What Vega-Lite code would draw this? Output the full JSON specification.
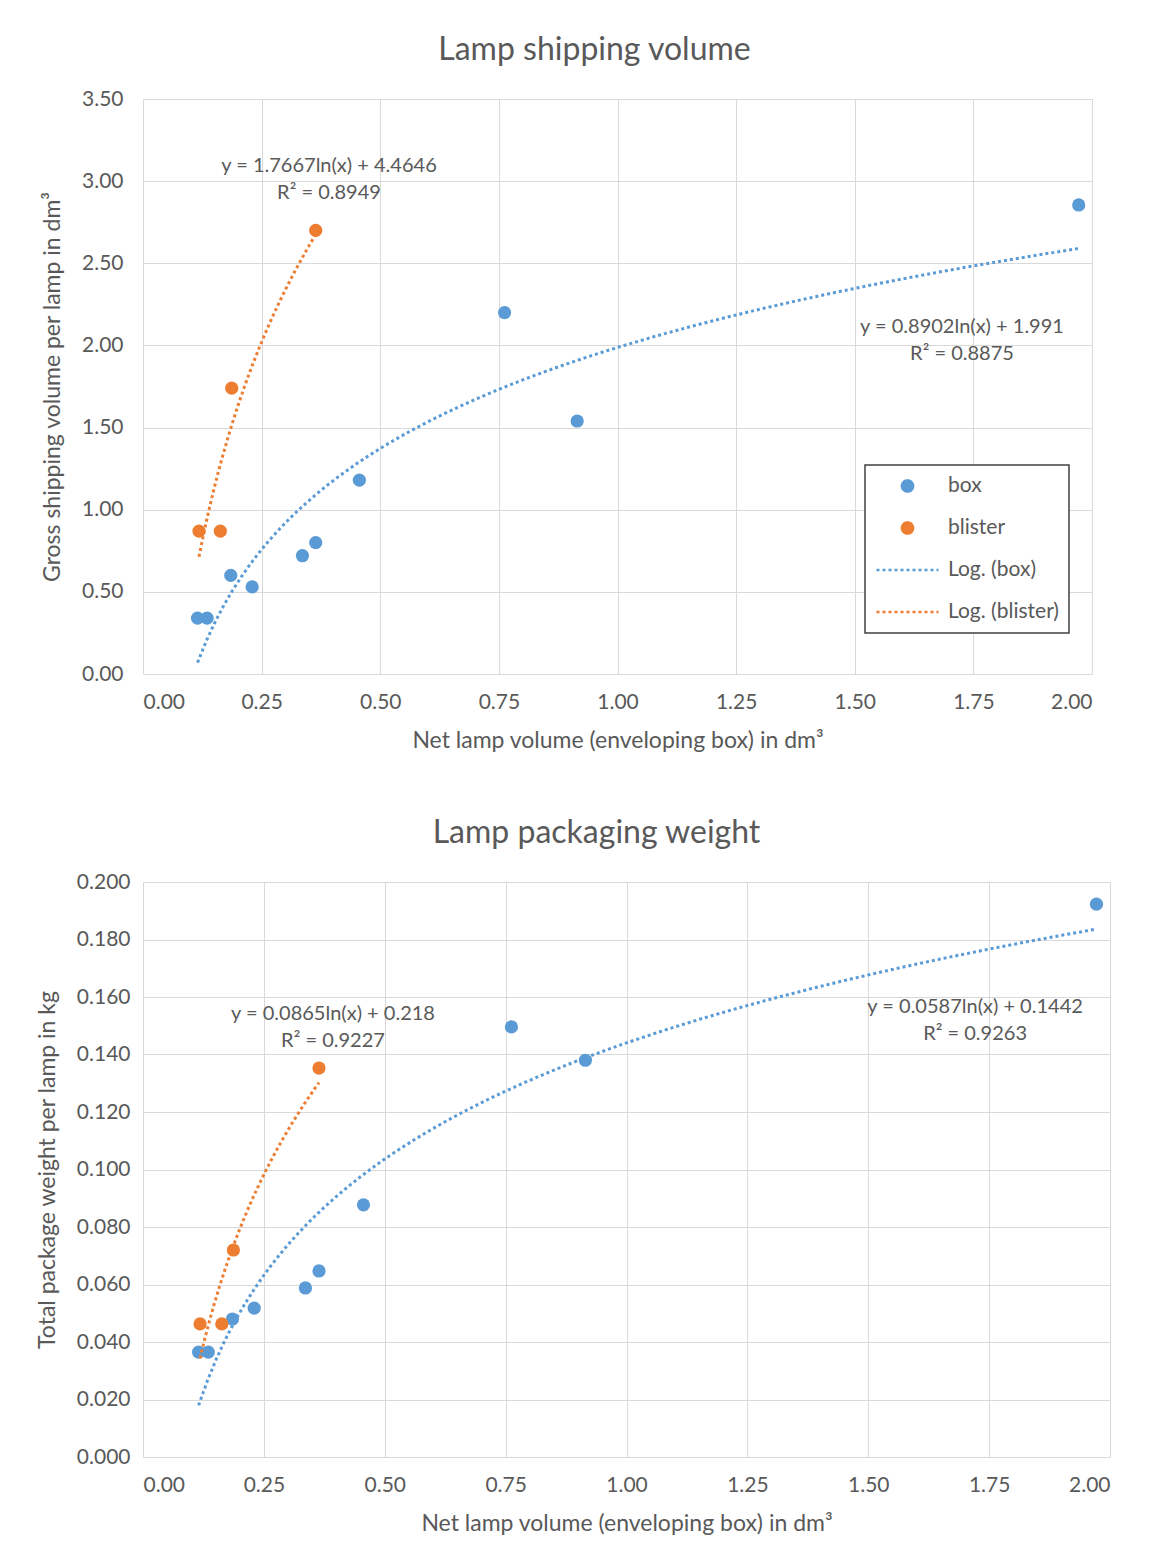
{
  "$schema": "https://vega.github.io/schema/vega-lite/v6.json",
  "background": "white",
  "padding": {"left": 36, "top": 34, "right": 10, "bottom": 10},
  "spacing": 65,
  "config": {
    "font": "Lato",
    "view": {"stroke": null},
    "axis": {
      "grid": true, "gridColor": "#d9d9d9", "gridWidth": 1,
      "domain": false, "ticks": false, "tickSize": 0,
      "labelColor": "#595959", "labelFontSize": 21, "labelFont": "Lato",
      "titleColor": "#595959", "titleFontSize": 23, "titleFont": "Lato", "titleFontWeight": "normal"
    },
    "axisX": {"labelPadding": 17, "titlePadding": 17},
    "axisY": {"labelPadding": 20, "titlePadding": 17},
    "title": {"fontSize": 32, "fontWeight": "normal", "color": "#595959", "font": "Lato", "offset": 21, "anchor": "middle"},
    "legend": {
      "orient": "none", "title": null, "padding": 10,
      "strokeColor": "#404040", "strokeWidth": 1.5, "fillColor": "white",
      "labelFontSize": 21, "labelColor": "#595959", "labelFont": "Lato",
      "symbolSize": 3844, "symbolStrokeWidth": 2.5, "clipHeight": 22,
      "rowPadding": 20, "labelOffset": 8
    }
  },
  "datasets": {
    "shipping": [
      {"x": 0.115, "y": 0.34, "series": "box", "trend": "Log. (box)"},
      {"x": 0.135, "y": 0.34, "series": "box", "trend": "Log. (box)"},
      {"x": 0.185, "y": 0.60, "series": "box", "trend": "Log. (box)"},
      {"x": 0.230, "y": 0.53, "series": "box", "trend": "Log. (box)"},
      {"x": 0.336, "y": 0.72, "series": "box", "trend": "Log. (box)"},
      {"x": 0.364, "y": 0.80, "series": "box", "trend": "Log. (box)"},
      {"x": 0.456, "y": 1.18, "series": "box", "trend": "Log. (box)"},
      {"x": 0.762, "y": 2.20, "series": "box", "trend": "Log. (box)"},
      {"x": 0.915, "y": 1.54, "series": "box", "trend": "Log. (box)"},
      {"x": 1.972, "y": 2.855, "series": "box", "trend": "Log. (box)"},
      {"x": 0.118, "y": 0.87, "series": "blister", "trend": "Log. (blister)"},
      {"x": 0.163, "y": 0.87, "series": "blister", "trend": "Log. (blister)"},
      {"x": 0.187, "y": 1.74, "series": "blister", "trend": "Log. (blister)"},
      {"x": 0.364, "y": 2.70, "series": "blister", "trend": "Log. (blister)"}
    ],
    "weight": [
      {"x": 0.115, "y": 0.0365, "series": "box", "trend": "Log. (box)"},
      {"x": 0.135, "y": 0.0365, "series": "box", "trend": "Log. (box)"},
      {"x": 0.185, "y": 0.0480, "series": "box", "trend": "Log. (box)"},
      {"x": 0.230, "y": 0.0518, "series": "box", "trend": "Log. (box)"},
      {"x": 0.336, "y": 0.0588, "series": "box", "trend": "Log. (box)"},
      {"x": 0.364, "y": 0.0647, "series": "box", "trend": "Log. (box)"},
      {"x": 0.456, "y": 0.0877, "series": "box", "trend": "Log. (box)"},
      {"x": 0.762, "y": 0.1496, "series": "box", "trend": "Log. (box)"},
      {"x": 0.915, "y": 0.1380, "series": "box", "trend": "Log. (box)"},
      {"x": 1.972, "y": 0.1923, "series": "box", "trend": "Log. (box)"},
      {"x": 0.118, "y": 0.0463, "series": "blister", "trend": "Log. (blister)"},
      {"x": 0.163, "y": 0.0463, "series": "blister", "trend": "Log. (blister)"},
      {"x": 0.187, "y": 0.0720, "series": "blister", "trend": "Log. (blister)"},
      {"x": 0.364, "y": 0.1353, "series": "blister", "trend": "Log. (blister)"}
    ],
    "shipLabels": [
      {"x": 0.392, "y": 3.09, "txt": "y = 1.7667ln(x) + 4.4646"},
      {"x": 0.392, "y": 2.93, "txt": "R² = 0.8949"},
      {"x": 1.726, "y": 2.11, "txt": "y = 0.8902ln(x) + 1.991"},
      {"x": 1.726, "y": 1.95, "txt": "R² = 0.8875"}
    ],
    "weightLabels": [
      {"x": 0.393, "y": 0.1541, "txt": "y = 0.0865ln(x) + 0.218"},
      {"x": 0.393, "y": 0.1447, "txt": "R² = 0.9227"},
      {"x": 1.721, "y": 0.1565, "txt": "y = 0.0587ln(x) + 0.1442"},
      {"x": 1.721, "y": 0.1471, "txt": "R² = 0.9263"}
    ]
  },
  "vconcat": [
    {
      "width": 949, "height": 575,
      "title": {"text": "Lamp shipping volume", "dx": -23},
      "encoding": {
        "x": {"field": "x", "type": "quantitative",
          "scale": {"domain": [0, 2], "nice": false, "zero": false},
          "axis": {"values": [0, 0.25, 0.5, 0.75, 1, 1.25, 1.5, 1.75, 2], "format": ".2f", "title": "Net lamp volume (enveloping box) in dm³"}},
        "y": {"field": "y", "type": "quantitative",
          "scale": {"domain": [0, 3.5], "nice": false, "zero": false},
          "axis": {"values": [0, 0.5, 1, 1.5, 2, 2.5, 3, 3.5], "format": ".2f", "title": "Gross shipping volume per lamp in dm³"}}
      },
      "layer": [
        {
          "data": {"name": "shipping"},
          "mark": {"type": "circle", "size": 175, "opacity": 1},
          "encoding": {
            "color": {"field": "series", "type": "nominal",
              "scale": {"domain": ["box", "blister", "Log. (box)", "Log. (blister)"], "range": ["#5B9BD5", "#ED7D31", "#5B9BD5", "#ED7D31"]},
              "legend": {"legendX": 722, "legendY": 366,
                "encode": {"symbols": {"update": {
                  "shape": {"signal": "indexof(datum.value,'Log')>=0 ? 'stroke' : 'M-0.18,0a0.18,0.18 0 1,0 0.36,0a0.18,0.18 0 1,0 -0.36,0Z'"},
                  "fill": {"signal": "indexof(datum.value,'Log')>=0 ? 'transparent' : (indexof(datum.value,'blister')>=0 ? '#ED7D31' : '#5B9BD5')"},
                  "stroke": {"signal": "indexof(datum.value,'blister')>=0 ? '#ED7D31' : '#5B9BD5'"},
                  "strokeDash": {"signal": "indexof(datum.value,'Log')>=0 ? [3,3] : [1,0]"},
                  "opacity": {"value": 1}
                }}}}}
          }
        },
        {
          "data": {"name": "shipping"},
          "transform": [{"regression": "y", "on": "x", "method": "log", "groupby": ["trend"]}],
          "mark": {"type": "line", "strokeDash": [3, 3], "strokeWidth": 3},
          "encoding": {"color": {"field": "trend", "type": "nominal",
              "legend": {"legendX": 722, "legendY": 366,
                "encode": {"symbols": {"update": {
                  "shape": {"signal": "indexof(datum.value,'Log')>=0 ? 'stroke' : 'M-0.18,0a0.18,0.18 0 1,0 0.36,0a0.18,0.18 0 1,0 -0.36,0Z'"},
                  "fill": {"signal": "indexof(datum.value,'Log')>=0 ? 'transparent' : (indexof(datum.value,'blister')>=0 ? '#ED7D31' : '#5B9BD5')"},
                  "stroke": {"signal": "indexof(datum.value,'blister')>=0 ? '#ED7D31' : '#5B9BD5'"},
                  "strokeDash": {"signal": "indexof(datum.value,'Log')>=0 ? [3,3] : [1,0]"},
                  "opacity": {"value": 1}
                }}}}}}
        },
        {
          "data": {"name": "shipLabels"},
          "mark": {"type": "text", "fontSize": 20, "color": "#595959", "font": "Lato", "align": "center", "baseline": "middle"},
          "encoding": {"text": {"field": "txt", "type": "nominal"}}
        }
      ]
    },
    {
      "width": 967, "height": 575,
      "title": {"text": "Lamp packaging weight", "dx": -30},
      "encoding": {
        "x": {"field": "x", "type": "quantitative",
          "scale": {"domain": [0, 2], "nice": false, "zero": false},
          "axis": {"values": [0, 0.25, 0.5, 0.75, 1, 1.25, 1.5, 1.75, 2], "format": ".2f", "title": "Net lamp volume (enveloping box) in dm³"}},
        "y": {"field": "y", "type": "quantitative",
          "scale": {"domain": [0, 0.2], "nice": false, "zero": false},
          "axis": {"values": [0, 0.02, 0.04, 0.06, 0.08, 0.1, 0.12, 0.14, 0.16, 0.18, 0.2], "format": ".3f", "labelPadding": 13, "title": "Total package weight per lamp in kg"}}
      },
      "layer": [
        {
          "data": {"name": "weight"},
          "mark": {"type": "circle", "size": 175, "opacity": 1},
          "encoding": {
            "color": {"field": "series", "type": "nominal",
              "scale": {"domain": ["box", "blister", "Log. (box)", "Log. (blister)"], "range": ["#5B9BD5", "#ED7D31", "#5B9BD5", "#ED7D31"]},
              "legend": {"legendX": 745, "legendY": 372,
                "encode": {"symbols": {"update": {
                  "shape": {"signal": "indexof(datum.value,'Log')>=0 ? 'stroke' : 'M-0.18,0a0.18,0.18 0 1,0 0.36,0a0.18,0.18 0 1,0 -0.36,0Z'"},
                  "fill": {"signal": "indexof(datum.value,'Log')>=0 ? 'transparent' : (indexof(datum.value,'blister')>=0 ? '#ED7D31' : '#5B9BD5')"},
                  "stroke": {"signal": "indexof(datum.value,'blister')>=0 ? '#ED7D31' : '#5B9BD5'"},
                  "strokeDash": {"signal": "indexof(datum.value,'Log')>=0 ? [3,3] : [1,0]"},
                  "opacity": {"value": 1}
                }}}}}
          }
        },
        {
          "data": {"name": "weight"},
          "transform": [{"regression": "y", "on": "x", "method": "log", "groupby": ["trend"]}],
          "mark": {"type": "line", "strokeDash": [3, 3], "strokeWidth": 3},
          "encoding": {"color": {"field": "trend", "type": "nominal",
              "legend": {"legendX": 745, "legendY": 372,
                "encode": {"symbols": {"update": {
                  "shape": {"signal": "indexof(datum.value,'Log')>=0 ? 'stroke' : 'M-0.18,0a0.18,0.18 0 1,0 0.36,0a0.18,0.18 0 1,0 -0.36,0Z'"},
                  "fill": {"signal": "indexof(datum.value,'Log')>=0 ? 'transparent' : (indexof(datum.value,'blister')>=0 ? '#ED7D31' : '#5B9BD5')"},
                  "stroke": {"signal": "indexof(datum.value,'blister')>=0 ? '#ED7D31' : '#5B9BD5'"},
                  "strokeDash": {"signal": "indexof(datum.value,'Log')>=0 ? [3,3] : [1,0]"},
                  "opacity": {"value": 1}
                }}}}}}
        },
        {
          "data": {"name": "weightLabels"},
          "mark": {"type": "text", "fontSize": 20, "color": "#595959", "font": "Lato", "align": "center", "baseline": "middle"},
          "encoding": {"text": {"field": "txt", "type": "nominal"}}
        }
      ]
    }
  ]
}
